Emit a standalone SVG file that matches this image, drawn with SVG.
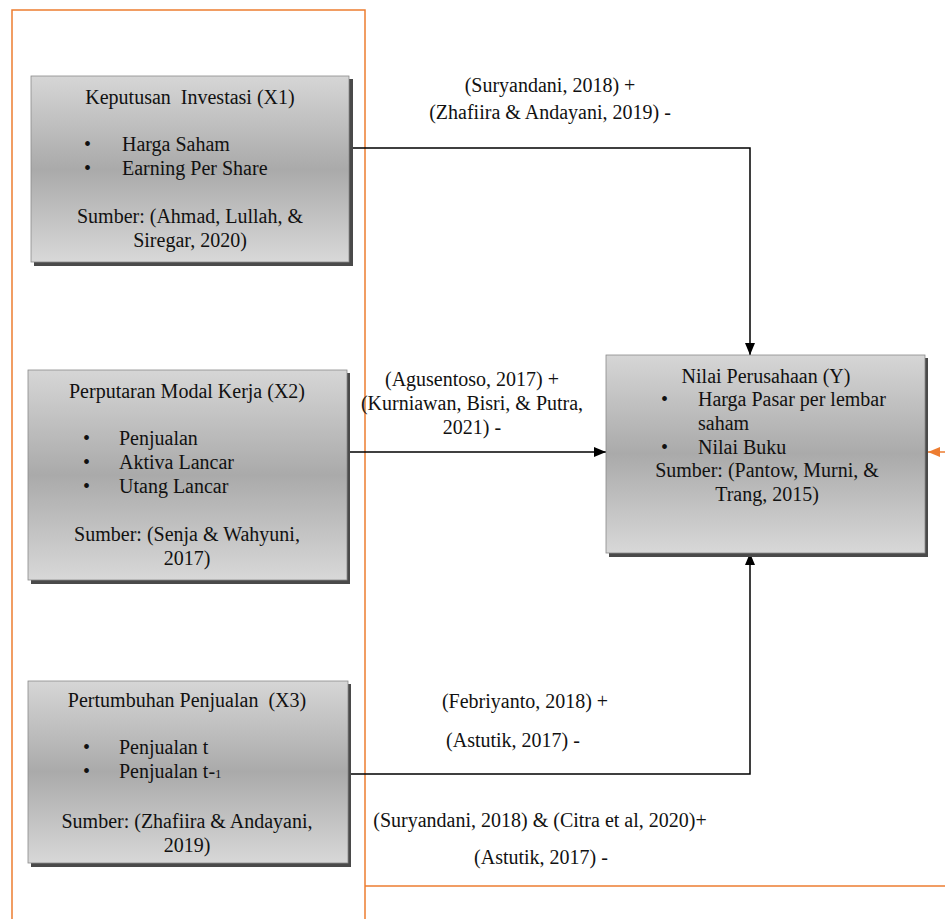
<svg xmlns="http://www.w3.org/2000/svg" width="945" height="919" viewBox="0 0 945 919">
<defs>
<linearGradient id="g" x1="0" y1="0" x2="0" y2="1">
<stop offset="0" stop-color="#d6d6d6"/>
<stop offset="0.5" stop-color="#aaaaaa"/>
<stop offset="1" stop-color="#d8d8d8"/>
</linearGradient>
<marker id="ab" viewBox="0 0 12 10" refX="12" refY="5" markerWidth="12" markerHeight="10" markerUnits="userSpaceOnUse" orient="auto">
<path d="M0,0 L12,5 L0,10 z" fill="#000"/>
</marker>
<marker id="ao" viewBox="0 0 12 10" refX="12" refY="5" markerWidth="12" markerHeight="10" markerUnits="userSpaceOnUse" orient="auto">
<path d="M0,0 L12,5 L0,10 z" fill="#ED7D31"/>
</marker>
</defs>
<style>
text{font-family:"Liberation Serif","Times New Roman",serif;font-size:20px;fill:#111}
.c{text-anchor:middle}
.box{fill:url(#g);stroke:#8a8a8a;stroke-width:0.8}
.sh{fill:#4a4a4a}
.ln{fill:none;stroke:#000;stroke-width:1.5}
.or{fill:none;stroke:#ED7D31;stroke-width:1.5}
</style>
<rect width="945" height="919" fill="#fff"/>
<g id="frame">
<path class="or" d="M12,919 L12,10 L365,10 L365,919"/>
<path class="or" d="M365,886 L945,886"/>
</g>
<g id="connectors">
<path class="ln" d="M349,148 L750,148 L750,355" marker-end="url(#ab)"/>
<path class="ln" d="M347,452 L606,452" marker-end="url(#ab)"/>
<path class="ln" d="M348,774 L750,774 L750,553" marker-end="url(#ab)"/>
<path class="or" d="M945,452 L928,452" marker-end="url(#ao)"/>
</g>
<g id="x1">
<rect class="sh" x="34" y="79" width="319" height="187"/>
<rect class="box" x="31" y="76" width="318" height="186"/>
<text class="c" x="190" y="104" xml:space="preserve">Keputusan  Investasi (X1)</text>
<text x="84" y="151">•</text><text x="122" y="151">Harga Saham</text>
<text x="84" y="175">•</text><text x="122" y="175">Earning Per Share</text>
<text class="c" x="190" y="223">Sumber: (Ahmad, Lullah, &amp;</text>
<text class="c" x="190" y="247">Siregar, 2020)</text>
</g>
<g id="x2">
<rect class="sh" x="31" y="373" width="319" height="211"/>
<rect class="box" x="28" y="370" width="319" height="210"/>
<text class="c" x="187" y="398">Perputaran Modal Kerja (X2)</text>
<text x="83" y="445">•</text><text x="119" y="445">Penjualan</text>
<text x="83" y="469">•</text><text x="119" y="469">Aktiva Lancar</text>
<text x="83" y="493">•</text><text x="119" y="493">Utang Lancar</text>
<text class="c" x="187" y="541">Sumber: (Senja &amp; Wahyuni,</text>
<text class="c" x="187" y="565">2017)</text>
</g>
<g id="x3">
<rect class="sh" x="31" y="684" width="320" height="183"/>
<rect class="box" x="28" y="681" width="320" height="182"/>
<text class="c" x="187" y="707" xml:space="preserve">Pertumbuhan Penjualan  (X3)</text>
<text x="83" y="754">•</text><text x="119" y="754">Penjualan  t</text>
<text x="83" y="778">•</text><text x="119" y="778">Penjualan  t-<tspan font-size="13">1</tspan></text>
<text class="c" x="187" y="828">Sumber: (Zhafiira &amp; Andayani,</text>
<text class="c" x="187" y="852">2019)</text>
</g>
<g id="y">
<rect class="sh" x="609" y="358" width="319" height="199"/>
<rect class="box" x="606" y="355" width="319" height="198"/>
<text class="c" x="766" y="383">Nilai Perusahaan (Y)</text>
<text x="661" y="406">•</text><text x="698" y="406">Harga Pasar per lembar</text>
<text x="698" y="430">saham</text>
<text x="661" y="454">•</text><text x="698" y="454">Nilai Buku</text>
<text class="c" x="767" y="477">Sumber: (Pantow, Murni, &amp;</text>
<text class="c" x="767" y="501">Trang, 2015)</text>
</g>
<g id="labels">
<text class="c" x="550" y="92">(Suryandani, 2018) +</text>
<text class="c" x="550" y="119">(Zhafiira &amp; Andayani, 2019) -</text>
<text class="c" x="472" y="386">(Agusentoso, 2017) +</text>
<text class="c" x="472" y="410">(Kurniawan, Bisri, &amp; Putra,</text>
<text class="c" x="472" y="434">2021) -</text>
<text class="c" x="525" y="708">(Febriyanto, 2018) +</text>
<text class="c" x="513" y="747">(Astutik, 2017) -</text>
<text class="c" x="540" y="827">(Suryandani, 2018) &amp; (Citra et al, 2020)+</text>
<text class="c" x="541" y="864">(Astutik, 2017) -</text>
</g>
</svg>
